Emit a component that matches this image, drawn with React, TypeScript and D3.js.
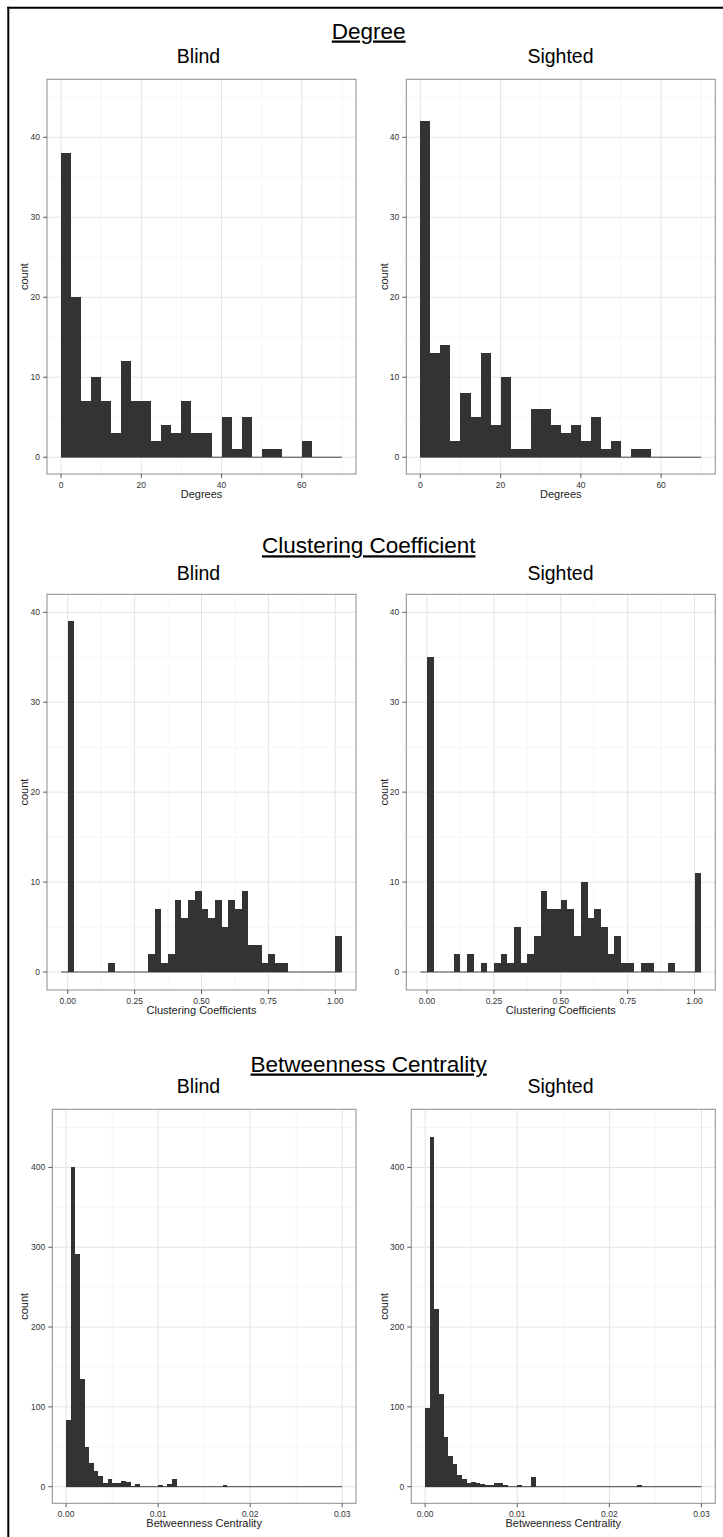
import React from 'react'
import * as d3 from 'd3'

// histogram counts (one value per bin)
const degreeBinStart = 0
const degreeBinWidth = 2.5
const degreeBlind = [38, 20, 7, 10, 7, 3, 12, 7, 7, 2, 4, 3, 7, 3, 3, 0, 5, 1, 5, 0, 1, 1, 0, 0, 2, 0, 0, 0]
const degreeSighted = [42, 13, 14, 2, 8, 5, 13, 4, 10, 1, 1, 6, 6, 4, 3, 4, 2, 5, 1, 2, 0, 1, 1, 0, 0, 0, 0, 0]
const degreeXTicks = [0, 20, 40, 60]
const degreeXMinor = [10, 30, 50, 70]
const degreeYTicks = [0, 10, 20, 30, 40]
const degreeYMinor = [5, 15, 25, 35, 45]

const clusterBinStart = -0.025
const clusterBinWidth = 0.025
const clusterBlind = [
  0, 39, 0, 0, 0, 0, 0, 1, 0, 0, 0, 0, 0, 2, 7, 1, 2, 8, 6, 8, 9,
  7, 6, 8, 5, 8, 7, 9, 3, 3, 1, 2, 1, 1, 0, 0, 0, 0, 0, 0, 0, 4,
]
const clusterSighted = [
  0, 35, 0, 0, 0, 2, 0, 2, 0, 1, 0, 1, 2, 1, 5, 1, 2, 4, 9, 7, 7,
  8, 7, 4, 10, 6, 7, 5, 2, 4, 1, 1, 0, 1, 1, 0, 0, 1, 0, 0, 0, 11,
]
const clusterXTicks = [0, 0.25, 0.5, 0.75, 1]
const clusterXMinor = [0.125, 0.375, 0.625, 0.875]
const clusterYTicks = [0, 10, 20, 30, 40]
const clusterYMinor = [5, 15, 25, 35]

const betweenBinStart = 0
const betweenBinWidth = 0.0005
const betweenBlind = [
  84, 400, 291, 135, 50, 30, 20, 14, 5, 10, 5, 5, 7, 6, 1, 4, 0, 0, 0, 0,
  2, 0, 4, 10, 0, 0, 0, 0, 0, 0, 0, 0, 0, 0, 2, 0, 0, 0, 0, 0,
  0, 0, 0, 0, 0, 0, 0, 0, 0, 0, 0, 0, 0, 0, 0, 0, 0, 0, 0, 0,
]
const betweenSighted = [
  98, 438, 223, 116, 62, 38, 28, 15, 10, 5, 6, 5, 3, 2, 2, 5, 5, 2, 0, 0,
  2, 0, 0, 12, 0, 0, 0, 0, 0, 0, 0, 0, 0, 0, 0, 0, 0, 0, 0, 0,
  0, 0, 0, 0, 0, 0, 2, 0, 0, 0, 0, 0, 0, 0, 0, 0, 0, 0, 0, 0,
]
const betweenXTicks = [0, 0.01, 0.02, 0.03]
const betweenXMinor = [0.005, 0.015, 0.025]
const betweenYTicks = [0, 100, 200, 300, 400]
const betweenYMinor = [50, 150, 250, 350, 450]

const FONT = "'Liberation Sans', Arial, Helvetica, sans-serif"
const BAR = '#333333'

function Panel({box, xDomain, yDomain, xTicks, xMinor, yTicks, yMinor, counts, binStart, binWidth, xFormat, xLabel, title, titleX, titleY, countX}) {
  const x = d3.scaleLinear().domain(xDomain).range([box.left, box.right])
  const y = d3.scaleLinear().domain(yDomain).range([box.bottom, box.top])
  const bins = counts.map((c, i) => ({x0: binStart + i * binWidth, x1: binStart + (i + 1) * binWidth, c}))
  const dataEnd = binStart + counts.length * binWidth
  const midY = (box.top + box.bottom) / 2

  return (
    <g>
      <text x={titleX} y={titleY} textAnchor="middle" fontSize={19.5} fontFamily={FONT} fill="#000">
        {title}
      </text>
      <rect x={box.left} y={box.top} width={box.right - box.left} height={box.bottom - box.top} fill="#fff" />
      {xMinor.map((t) => (
        <line key={'xm' + t} x1={x(t)} x2={x(t)} y1={box.top} y2={box.bottom} stroke="#f4f4f4" strokeWidth={0.8} />
      ))}
      {yMinor.map((t) => (
        <line key={'ym' + t} x1={box.left} x2={box.right} y1={y(t)} y2={y(t)} stroke="#f4f4f4" strokeWidth={0.8} />
      ))}
      {xTicks.map((t) => (
        <line key={'xg' + t} x1={x(t)} x2={x(t)} y1={box.top} y2={box.bottom} stroke="#e4e4e4" strokeWidth={1} />
      ))}
      {yTicks.map((t) => (
        <line key={'yg' + t} x1={box.left} x2={box.right} y1={y(t)} y2={y(t)} stroke="#e4e4e4" strokeWidth={1} />
      ))}
      <line x1={x(binStart)} x2={x(dataEnd)} y1={y(0)} y2={y(0)} stroke={BAR} strokeWidth={0.9} />
      {bins.filter((b) => b.c > 0).map((b, i) => (
        <rect key={i} x={x(b.x0)} y={y(b.c)} width={x(b.x1) - x(b.x0)} height={y(0) - y(b.c)} fill={BAR} shapeRendering="crispEdges" />
      ))}
      <rect x={box.left} y={box.top} width={box.right - box.left} height={box.bottom - box.top} fill="none" stroke="#8c8c8c" strokeWidth={1} />

      {yTicks.map((t) => (
        <g key={'yt' + t}>
          <line x1={box.left - 4} x2={box.left} y1={y(t)} y2={y(t)} stroke="#333" strokeWidth={0.8} />
          <text x={box.left - 7} y={y(t)} dy="0.34em" textAnchor="end" fontSize={8.5} fontFamily={FONT} fill="#333">
            {t}
          </text>
        </g>
      ))}
      {xTicks.map((t) => (
        <g key={'xt' + t}>
          <line x1={x(t)} x2={x(t)} y1={box.bottom} y2={box.bottom + 4} stroke="#333" strokeWidth={0.8} />
          <text x={x(t)} y={box.bottom + 13.5} textAnchor="middle" fontSize={8.5} fontFamily={FONT} fill="#333">
            {xFormat(t)}
          </text>
        </g>
      ))}
      <text x={(box.left + box.right) / 2} y={box.bottom + 23.5} textAnchor="middle" fontSize={11} fontFamily={FONT} fill="#222">
        {xLabel}
      </text>
      <text transform={`translate(${countX},${midY}) rotate(-90)`} textAnchor="middle" fontSize={11} fontFamily={FONT} fill="#222">
        count
      </text>
    </g>
  )
}

const fmtInt = d3.format('d')
const fmt2 = d3.format('.2f')

export default function App() {
  const width = 723
  const height = 1537
  const cols = [
    {left: 47, right: 356, titleX: 198.5, countX: 28.3},
    {left: 406.3, right: 715.3, titleX: 560.5, countX: 387.7},
  ]
  const colsB = [
    {left: 52.3, right: 356, titleX: 198.5, countX: 28.3},
    {left: 411.3, right: 715.3, titleX: 560.5, countX: 387.7},
  ]

  const sections = [
    {
      heading: 'Degree', headingY: 38.5, titleY: 62.7, top: 79.3, bottom: 474, columns: cols,
      xDomain: [-3.5, 73.5], yDomain: [-2.1, 47.25], xTicks: degreeXTicks, xMinor: degreeXMinor,
      yTicks: degreeYTicks, yMinor: degreeYMinor, binStart: degreeBinStart, binWidth: degreeBinWidth,
      series: [degreeBlind, degreeSighted], xFormat: fmtInt, xLabel: 'Degrees',
    },
    {
      heading: 'Clustering Coefficient', headingY: 553.3, titleY: 580, top: 594.3, bottom: 990, columns: cols,
      xDomain: [-0.0775, 1.0775], yDomain: [-2, 42], xTicks: clusterXTicks, xMinor: clusterXMinor,
      yTicks: clusterYTicks, yMinor: clusterYMinor, binStart: clusterBinStart, binWidth: clusterBinWidth,
      series: [clusterBlind, clusterSighted], xFormat: fmt2, xLabel: 'Clustering Coefficients',
    },
    {
      heading: 'Betweenness Centrality', headingY: 1071.5, titleY: 1092.7, top: 1109.3, bottom: 1503.3, columns: colsB,
      xDomain: [-0.0015, 0.0315], yDomain: [-20.8, 472.8], xTicks: betweenXTicks, xMinor: betweenXMinor,
      yTicks: betweenYTicks, yMinor: betweenYMinor, binStart: betweenBinStart, binWidth: betweenBinWidth,
      series: [betweenBlind, betweenSighted], xFormat: fmt2, xLabel: 'Betweenness Centrality',
    },
  ]
  const groups = ['Blind', 'Sighted']

  return (
    <svg width={width} height={height} style={{position: 'absolute', left: 0, top: 0, background: '#fff'}}>
      <rect x={0} y={0} width={width} height={height} fill="#fff" />
      <line x1={8.3} x2={8.3} y1={6.7} y2={height} stroke="#000" strokeWidth={2} />
      <line x1={7.3} x2={width} y1={7.7} y2={7.7} stroke="#000" strokeWidth={2} />
      {sections.map((s) => (
        <g key={s.heading}>
          <text x={368.7} y={s.headingY} textAnchor="middle" fontSize={22.5} fontFamily={FONT} fill="#000" textDecoration="underline">
            {s.heading}
          </text>
          {s.columns.map((c, i) => (
            <Panel
              key={groups[i]}
              box={{left: c.left, right: c.right, top: s.top, bottom: s.bottom}}
              xDomain={s.xDomain}
              yDomain={s.yDomain}
              xTicks={s.xTicks}
              xMinor={s.xMinor}
              yTicks={s.yTicks}
              yMinor={s.yMinor}
              counts={s.series[i]}
              binStart={s.binStart}
              binWidth={s.binWidth}
              xFormat={s.xFormat}
              xLabel={s.xLabel}
              title={groups[i]}
              titleX={c.titleX}
              titleY={s.titleY}
              countX={c.countX}
            />
          ))}
        </g>
      ))}
    </svg>
  )
}
